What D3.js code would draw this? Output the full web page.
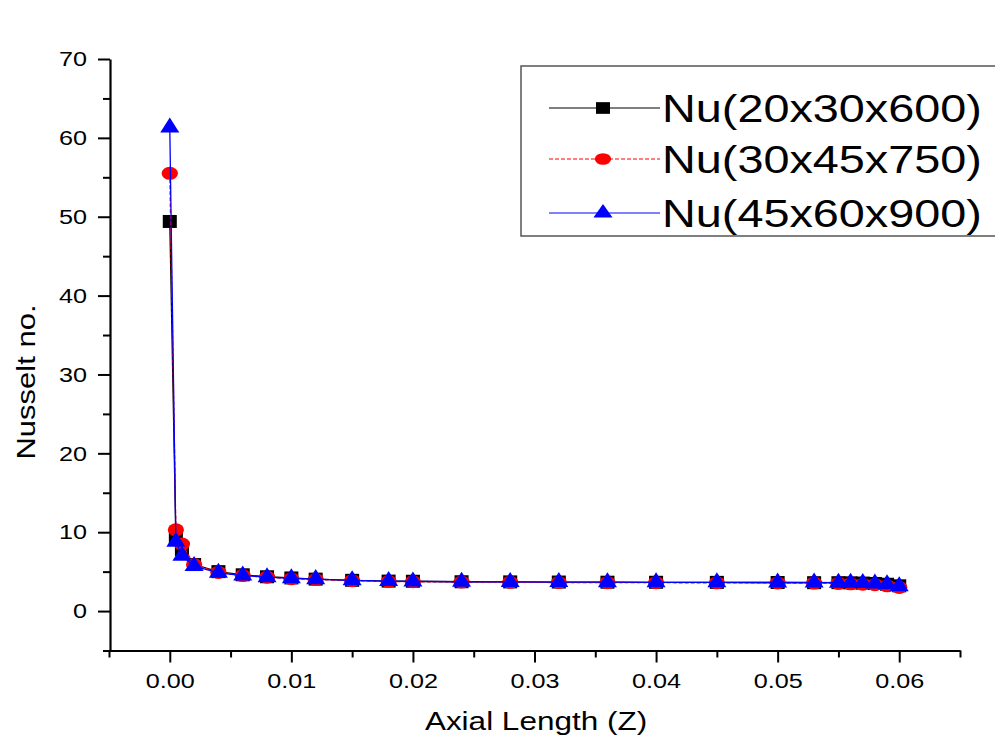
<!DOCTYPE html>
<html>
<head>
<meta charset="utf-8">
<script src="https://cdn.jsdelivr.net/npm/d3@7"></script>
<style>
  body { margin: 0; background: #fff; }
  text { font-family: "Liberation Sans", Arial, sans-serif; fill: #000; }
</style>
</head>
<body>
<script>
const width = 995;
const height = 742;

// axial positions (Z) shared by all three meshes
const zValues = [0, 0.0005, 0.001, 0.002, 0.004, 0.006, 0.008, 0.010, 0.012, 0.015, 0.018, 0.020,
  0.024, 0.028, 0.032, 0.036, 0.040, 0.045, 0.050, 0.053, 0.055, 0.056, 0.057, 0.058, 0.059, 0.060];

const nu20 = [49.4, 9.2, 7.8, 5.9, 5.0, 4.6, 4.35, 4.2, 4.05, 3.9, 3.8, 3.78, 3.72, 3.7, 3.68, 3.66,
  3.65, 3.64, 3.62, 3.6, 3.6, 3.58, 3.55, 3.5, 3.4, 3.2];
const nu30 = [55.5, 10.3, 8.5, 5.9, 4.9, 4.5, 4.3, 4.1, 4.0, 3.85, 3.75, 3.72, 3.68, 3.65, 3.62, 3.6,
  3.6, 3.58, 3.56, 3.55, 3.5, 3.45, 3.4, 3.35, 3.2, 3.0];
const nu45 = [61.3, 8.8, 7.0, 5.7, 4.85, 4.5, 4.3, 4.15, 4.05, 3.9, 3.8, 3.76, 3.72, 3.7, 3.68, 3.66,
  3.65, 3.64, 3.62, 3.62, 3.6, 3.58, 3.55, 3.5, 3.4, 3.15];

const seriesNames = ['Nu(20x30x600)', 'Nu(30x45x750)', 'Nu(45x60x900)'];
const xTicks = [0, 0.01, 0.02, 0.03, 0.04, 0.05, 0.06];
const yTicks = [0, 10, 20, 30, 40, 50, 60, 70];

const series = [
  { name: seriesNames[0], values: nu20, color: '#000', dash: null, shape: 'square' },
  { name: seriesNames[1], values: nu30, color: '#f00', dash: '4,2', shape: 'circle' },
  { name: seriesNames[2], values: nu45, color: '#00f', dash: null, shape: 'triangle' }
];

const sx = 1.2; // text in the original is drawn wider than Arial

const xScale = d3.scaleLinear().domain([-0.005, 0.065]).range([109, 960]);
const yScale = d3.scaleLinear().domain([-5, 70]).range([650.5, 59]);

const svg = d3.select('body')
  .append('svg')
  .attr('width', width)
  .attr('height', height);

// minor ticks first
svg.append('g')
  .attr('transform', 'translate(0,650.5)')
  .call(d3.axisBottom(xScale).tickValues(d3.range(-0.005, 0.066, 0.01)).tickSize(7).tickFormat(''))
  .call(g => g.select('.domain').remove())
  .selectAll('line').attr('stroke-width', 2);

svg.append('g')
  .attr('transform', 'translate(110,0)')
  .call(d3.axisLeft(yScale).tickValues(d3.range(-5, 70, 10)).tickSize(7).tickFormat(''))
  .call(g => g.select('.domain').remove())
  .selectAll('line').attr('stroke-width', 2);

const xAxis = svg.append('g')
  .attr('transform', 'translate(0,650.5)')
  .call(d3.axisBottom(xScale).tickValues(xTicks).tickSize(12).tickSizeOuter(0).tickFormat(d3.format('.2f')));
xAxis.select('.domain').attr('stroke-width', 2.2);
xAxis.selectAll('line').attr('stroke-width', 2);
xAxis.selectAll('text')
  .attr('y', 23)
  .attr('font-size', 21)
  .attr('transform', `scale(${sx},1)`);

const yAxis = svg.append('g')
  .attr('transform', 'translate(110,0)')
  .call(d3.axisLeft(yScale).tickValues(yTicks).tickSize(12).tickSizeOuter(0).tickFormat(d3.format('d')));
yAxis.select('.domain').attr('stroke-width', 2.2);
yAxis.selectAll('line').attr('stroke-width', 2);
yAxis.selectAll('text')
  .attr('x', -23 / sx)
  .attr('font-size', 21)
  .attr('transform', `scale(${sx},1)`);

svg.selectAll('.domain, .tick line').attr('stroke', '#000');

// axis titles
svg.append('text')
  .attr('transform', 'translate(536,730) scale(1.26,1)')
  .attr('text-anchor', 'middle')
  .attr('font-size', 25)
  .text('Axial Length (Z)');

svg.append('text')
  .attr('transform', `translate(35,382) rotate(-90) scale(1.24,1)`)
  .attr('text-anchor', 'middle')
  .attr('font-size', 25)
  .text('Nusselt no.');

function marker(shape) {
  if (shape === 'square') return { d: d3.symbol(d3.symbolSquare, 169)(), k: 1.08 };
  if (shape === 'circle') return { d: d3.symbol(d3.symbolCircle, 133)(), k: 1.25 };
  return { d: d3.symbol(d3.symbolTriangle, 130)(), k: 1.1 };
}

const line = d3.line()
  .x((d, i) => xScale(zValues[i]))
  .y(d => yScale(d));

series.forEach(s => {
  const g = svg.append('g');
  g.append('path')
    .datum(s.values)
    .attr('fill', 'none')
    .attr('stroke', s.color)
    .attr('stroke-width', 1.3)
    .attr('stroke-dasharray', s.dash)
    .attr('d', line);
  const m = marker(s.shape);
  g.selectAll('.pt')
    .data(s.values)
    .enter()
    .append('path')
    .attr('class', 'pt')
    .attr('d', m.d)
    .attr('fill', s.color)
    .attr('transform', (d, i) => `translate(${xScale(zValues[i])},${yScale(d)}) scale(${m.k},1)`);
});

// legend
const legend = svg.append('g');
legend.append('rect')
  .attr('x', 521)
  .attr('y', 66)
  .attr('width', 490)
  .attr('height', 170)
  .attr('fill', 'none')
  .attr('stroke', '#555')
  .attr('stroke-width', 1.5);

const rowY = [108, 159, 213];
series.forEach((s, i) => {
  const row = legend.append('g').attr('transform', `translate(0,${rowY[i]})`);
  row.append('line')
    .attr('x1', 549).attr('x2', 660)
    .attr('stroke', s.color)
    .attr('stroke-width', 1.2)
    .attr('stroke-dasharray', s.dash);
  const m = marker(s.shape);
  row.append('path')
    .attr('d', m.d)
    .attr('fill', s.color)
    .attr('transform', `translate(603,0) scale(${m.k},0.9)`);
  row.append('text')
    .attr('transform', `translate(662,14) scale(${sx},1)`)
    .attr('font-size', 39)
    .text(s.name);
});
</script>
</body>
</html>
